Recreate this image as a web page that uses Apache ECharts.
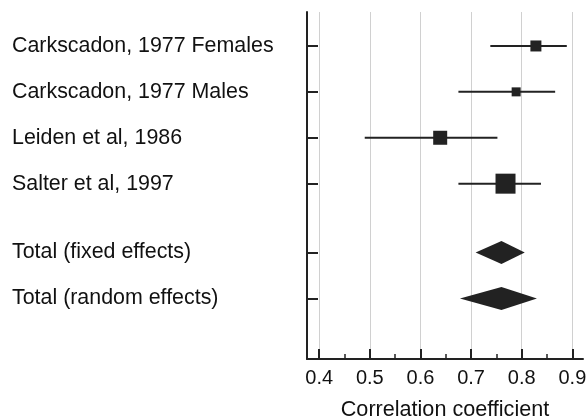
<!DOCTYPE html>
<html>
<head>
<meta charset="utf-8">
<script src="https://cdn.jsdelivr.net/npm/echarts@6/dist/echarts.min.js"></script>
<style>html,body{margin:0;padding:0;background:#fff}#c{width:588px;height:417px}</style>
</head>
<body>
<div id="c"></div>
<script>
// Study rows (y positions in row units)
var studyNames = ['Carkscadon, 1977 Females', 'Carkscadon, 1977 Males', 'Leiden et al, 1986', 'Salter et al, 1997'];
var studyRows = [1, 2, 3, 4];
var studyEst = [0.828, 0.789, 0.639, 0.768];
var studyLow = [0.738, 0.675, 0.490, 0.675];
var studyHigh = [0.889, 0.866, 0.752, 0.838];
var studyWeight = [11, 9, 14, 20];

var totalNames = ['Total (fixed effects)', 'Total (random effects)'];
var totalRows = [5.5, 6.5];
var totalEst = [0.760, 0.760];
var totalLow = [0.709, 0.678];
var totalHigh = [0.806, 0.830];

var xTicks = [0.4, 0.5, 0.6, 0.7, 0.8, 0.9];

var allNames = studyNames.concat(totalNames);
var allRows = studyRows.concat(totalRows);

var FONT = '"Liberation Sans", Arial, sans-serif';
var INK = '#222';

var studyData = studyRows.map(function (r, i) {
  return [studyLow[i], studyHigh[i], studyEst[i], r, studyWeight[i]];
});
var totalData = totalRows.map(function (r, i) {
  return [totalLow[i], totalHigh[i], totalEst[i], r];
});

var chart = echarts.init(document.getElementById('c'), null, {renderer: 'canvas'});
chart.setOption({
  animation: false,
  backgroundColor: '#fff',
  grid: {left: 307, right: 5, top: 12, bottom: 58, containLabel: false, outerBoundsMode: 'none'},
  xAxis: {
    type: 'value',
    min: 0.376,
    max: 0.921,
    axisLine: {show: true, lineStyle: {color: INK, width: 2}},
    axisTick: {show: true, inside: true, length: 10, customValues: xTicks, lineStyle: {color: INK, width: 2}},
    minorTick: {show: true, splitNumber: 2, length: 5, lineStyle: {color: INK, width: 1.5}},
    axisLabel: {customValues: xTicks, margin: 9, fontSize: 20, color: '#111', fontFamily: FONT,
      formatter: function (v) { return v.toFixed(1); }},
    splitLine: {show: true, lineStyle: {color: '#d0d0d0', width: 1}},
    name: 'Correlation coefficient',
    nameLocation: 'middle',
    nameGap: 40,
    nameTextStyle: {fontSize: 21.6, color: '#111', fontFamily: FONT}
  },
  yAxis: {
    type: 'value',
    inverse: true,
    min: 0.26,
    max: 7.82,
    axisLine: {show: true, lineStyle: {color: INK, width: 2}},
    axisTick: {show: true, inside: true, length: 11, customValues: allRows, lineStyle: {color: INK, width: 2}},
    axisLabel: {
      customValues: allRows,
      align: 'left',
      margin: 295,
      fontSize: 21.4,
      color: '#111',
      fontFamily: FONT,
      formatter: function (v) {
        var i = allRows.indexOf(v);
        return i >= 0 ? allNames[i] : '';
      }
    },
    splitLine: {show: false}
  },
  series: [
    {
      type: 'custom',
      data: studyData,
      renderItem: function (params, api) {
        var lo = api.coord([api.value(0), api.value(3)]);
        var hi = api.coord([api.value(1), api.value(3)]);
        var c = api.coord([api.value(2), api.value(3)]);
        var s = api.value(4);
        return {
          type: 'group',
          children: [
            {type: 'line', shape: {x1: lo[0], y1: lo[1], x2: hi[0], y2: hi[1]}, style: {stroke: INK, lineWidth: 2}},
            {type: 'rect', shape: {x: c[0] - s / 2, y: c[1] - s / 2, width: s, height: s}, style: {fill: INK}}
          ]
        };
      }
    },
    {
      type: 'custom',
      data: totalData,
      renderItem: function (params, api) {
        var lo = api.coord([api.value(0), api.value(3)]);
        var hi = api.coord([api.value(1), api.value(3)]);
        var c = api.coord([api.value(2), api.value(3)]);
        var h = 11.5;
        return {
          type: 'polygon',
          shape: {points: [[lo[0], lo[1]], [c[0], c[1] - h], [hi[0], hi[1]], [c[0], c[1] + h]]},
          style: {fill: INK}
        };
      }
    }
  ]
});
</script>
</body>
</html>
